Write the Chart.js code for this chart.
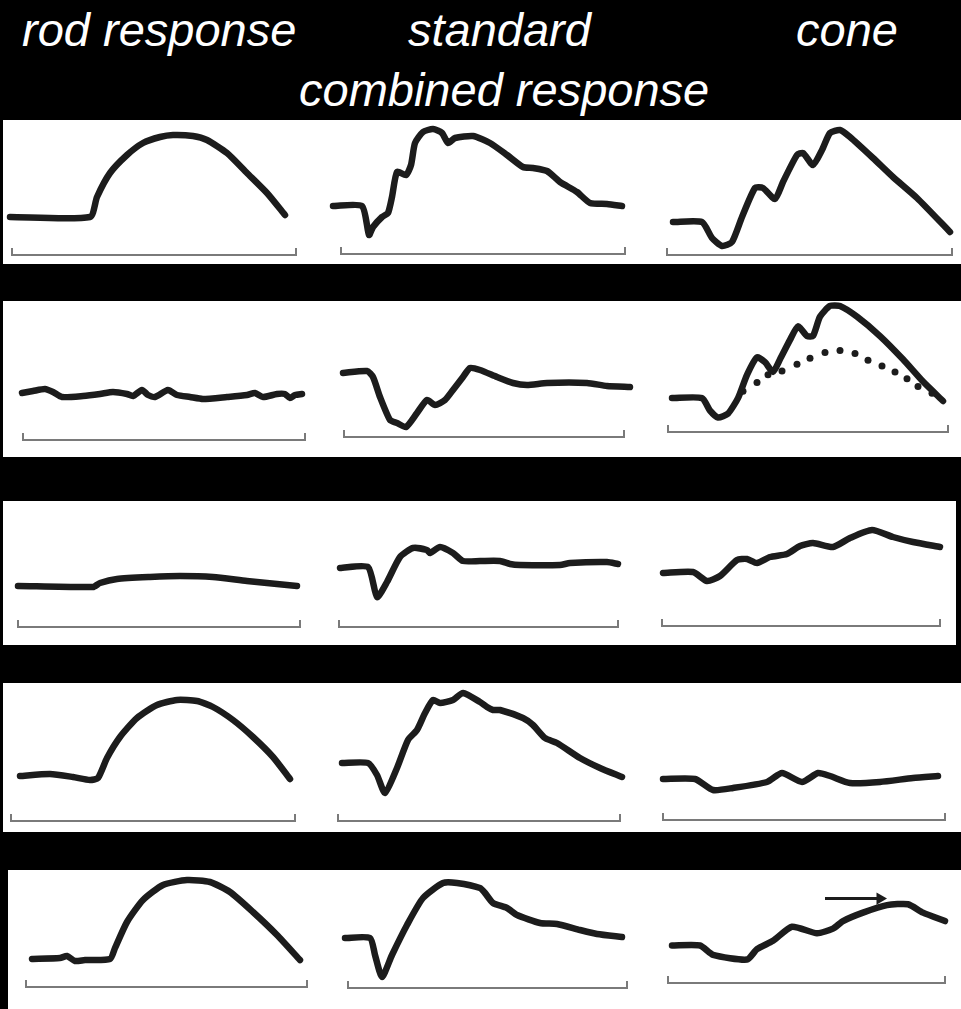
<!DOCTYPE html>
<html>
<head>
<meta charset="utf-8">
<script src="https://cdn.jsdelivr.net/npm/chart.js@4/dist/chart.umd.min.js"></script>
<style>
  body { margin: 0; background: #000; width: 961px; height: 1009px; position: relative; overflow: hidden; }
  .titulo { position: absolute; color: #fff; font-family: "Liberation Sans", Arial, sans-serif; font-style: italic; font-size: 47px; line-height: 47px; white-space: nowrap; }
  .panel { position: absolute; background: #fff; }
  canvas { position: absolute; }
</style>
</head>
<body>
<div class="titulo" style="left:22px;top:6px">rod response</div>
<div class="titulo" style="left:408px;top:6px">standard</div>
<div class="titulo" style="left:796px;top:6px">cone</div>
<div class="titulo" style="left:299px;top:66px">combined response</div>

<script>
// datos: [tiempo, amplitud] (tiempo desde el inicio del barrido, amplitud sobre la linea base)
const rod1 = [[-2,38],[78,38],[85,58],[98,82],[115,100],[131,112],[148,118],[161,120],[181,119],[195,115],[215,102],[235,82],[255,62],[273,40]];
const std1 = [[-8,48],[21,48],[28,19],[32,27],[41,37],[47,41],[51,57],[56,82],[65,79],[70,89],[74,111],[82,122],[92,125],[101,121],[107,111],[114,116],[132,118],[149,111],[166,99],[182,87],[192,86],[206,83],[219,72],[236,62],[249,51],[266,50],[281,48]];
const cone1 = [[6,33],[35,33],[45,17],[55,9],[65,13],[75,38],[88,67],[96,67],[108,56],[116,73],[130,100],[136,102],[146,90],[155,105],[163,122],[173,125],[183,118],[206,97],[226,78],[250,57],[283,23]];

const rod2 = [[-1,47],[10,49],[22,51],[30,48],[39,43],[60,44],[77,46],[90,48],[104,46],[110,44],[119,50],[125,45],[132,43],[145,50],[154,45],[167,43],[180,41],[204,43],[224,45],[232,47],[240,43],[254,46],[262,46],[267,42],[272,45],[279,46]];
const std2 = [[-1,64],[23,66],[29,60],[36,40],[46,17],[53,14],[62,10],[73,24],[83,37],[91,32],[101,37],[109,47],[119,60],[126,69],[136,67],[153,60],[169,54],[183,52],[203,54],[243,54],[263,51],[286,50]];
const cone2 = [[4,35],[34,35],[42,22],[50,15],[60,19],[70,35],[79,59],[89,77],[97,72],[105,62],[112,75],[122,95],[130,109],[139,99],[145,99],[152,119],[162,130],[172,130],[189,119],[212,99],[235,75],[255,52],[275,32]];
const cone2Punteada = [[75,42],[89,51],[100,59],[114,63],[129,70],[142,76],[157,82],[172,84],[187,81],[200,74],[214,68],[227,62],[239,55],[250,47],[264,40]];

const rod3 = [[0,41],[75,40],[82,44],[99,48],[132,50],[162,51],[195,50],[229,46],[279,41]];
const std3 = [[1,59],[29,60],[38,30],[48,45],[61,70],[74,79],[88,77],[91,74],[101,80],[114,74],[124,66],[141,66],[161,66],[171,63],[181,62],[221,62],[231,64],[268,65],[279,63]];
const cone3 = [[1,53],[31,54],[45,45],[58,50],[75,66],[85,67],[95,63],[108,69],[125,72],[138,80],[151,83],[171,79],[188,88],[210,96],[231,89],[251,84],[278,79]];

const rod4 = [[9,45],[39,47],[62,44],[79,41],[87,43],[96,63],[109,84],[126,103],[146,116],[166,121],[186,120],[202,114],[222,101],[242,84],[262,64],[279,42]];
const std4 = [[4,58],[30,58],[39,46],[47,28],[59,53],[70,81],[79,91],[87,108],[95,121],[102,118],[115,121],[125,128],[142,119],[149,114],[155,111],[162,111],[185,103],[195,96],[207,83],[219,78],[242,63],[262,53],[284,44]];
const cone4 = [[0,41],[32,41],[50,30],[70,32],[104,38],[119,47],[139,38],[155,47],[167,44],[187,37],[217,38],[250,42],[275,44]];

const rod5 = [[6,28],[34,29],[41,31],[49,26],[59,27],[84,28],[89,39],[101,65],[117,87],[137,102],[161,107],[184,105],[204,95],[227,75],[251,52],[274,27]];
const std5 = [[-3,50],[22,50],[27,33],[34,11],[44,33],[59,63],[75,90],[95,105],[109,105],[132,100],[137,95],[145,85],[159,80],[169,73],[192,65],[209,64],[232,58],[249,54],[274,51]];
const cone5 = [[4,40],[32,40],[45,30],[79,25],[89,36],[105,45],[124,60],[149,53],[165,58],[175,66],[195,75],[219,83],[240,84],[255,75],[277,66]];
const cone5Flecha = [[157,90],[212,90]];

// paneles blancos (left, top, right, bottom)
const paneles = [
  [3, 120, 961, 264],
  [3, 301, 961, 457],
  [3, 501, 956, 645],
  [3, 683, 961, 832],
  [8, 870, 961, 1009]
];

// linea base de cada celda: [x inicio, x fin, y]
const bases = [
  [[12,296,255],[341,625,254],[667,952,255]],
  [[23,305,440],[344,624,437],[668,948,432]],
  [[18,300,627],[339,618,627],[662,940,626]],
  [[11,295,821],[338,620,821],[663,945,820]],
  [[26,307,987],[348,627,988],[668,945,983]]
];

const trazos = [
  [rod1, std1, cone1],
  [rod2, std2, cone2],
  [rod3, std3, cone3],
  [rod4, std4, cone4],
  [rod5, std5, cone5]
];

const colorTrazo = '#1c1c1c';
const margen = 30;

const lineaBase = {
  id: 'lineaBase',
  beforeDatasetsDraw(chart) {
    const { ctx, chartArea } = chart;
    const y = chartArea.bottom;
    ctx.save();
    ctx.strokeStyle = '#7a7a7a';
    ctx.lineWidth = 2;
    ctx.beginPath();
    ctx.moveTo(chartArea.left, y - 7);
    ctx.lineTo(chartArea.left, y);
    ctx.lineTo(chartArea.right, y);
    ctx.lineTo(chartArea.right, y - 7);
    ctx.stroke();
    ctx.restore();
  }
};

function aPuntos(serie) {
  return serie.map(p => ({ x: p[0], y: p[1] }));
}

function dibujarCelda(fila, col) {
  const [x0, x1, yb] = bases[fila][col];
  const top = paneles[fila][1];
  const alto = yb - top;
  const canvas = document.createElement('canvas');
  canvas.width = (x1 - x0) + margen * 2;
  canvas.height = alto + 12;
  canvas.style.left = (x0 - margen) + 'px';
  canvas.style.top = top + 'px';
  document.body.appendChild(canvas);

  const datasets = [{
    data: aPuntos(trazos[fila][col]),
    borderColor: colorTrazo,
    borderWidth: 6.5,
    borderCapStyle: 'round',
    borderJoinStyle: 'round',
    pointRadius: 0,
    tension: 0.2,
    clip: false
  }];

  if (fila === 1 && col === 2) {
    datasets.push({
      data: aPuntos(cone2Punteada),
      showLine: false,
      pointRadius: 3.5,
      pointBackgroundColor: colorTrazo,
      pointBorderWidth: 0,
      clip: false
    });
  }
  if (fila === 4 && col === 2) {
    datasets.push({
      data: aPuntos(cone5Flecha),
      borderColor: colorTrazo,
      borderWidth: 3,
      pointRadius: [0, 7],
      pointStyle: 'triangle',
      rotation: 90,
      pointBackgroundColor: colorTrazo,
      pointBorderWidth: 0,
      clip: false
    });
  }

  new Chart(canvas.getContext('2d'), {
    type: 'line',
    data: { datasets },
    options: {
      responsive: false,
      animation: false,
      layout: { padding: { left: margen, right: margen, top: 0, bottom: 12 } },
      scales: {
        x: { type: 'linear', min: 0, max: x1 - x0, display: false },
        y: { min: 0, max: alto, display: false }
      },
      plugins: { legend: { display: false }, tooltip: { enabled: false } }
    },
    plugins: [lineaBase]
  });
}

function iniciar() {
  paneles.forEach(p => {
    const div = document.createElement('div');
    div.className = 'panel';
    div.style.left = p[0] + 'px';
    div.style.top = p[1] + 'px';
    div.style.width = (p[2] - p[0]) + 'px';
    div.style.height = (p[3] - p[1]) + 'px';
    document.body.appendChild(div);
  });
  for (let fila = 0; fila < 5; fila++) {
    for (let col = 0; col < 3; col++) {
      dibujarCelda(fila, col);
    }
  }
}

iniciar();
</script>
</body>
</html>
